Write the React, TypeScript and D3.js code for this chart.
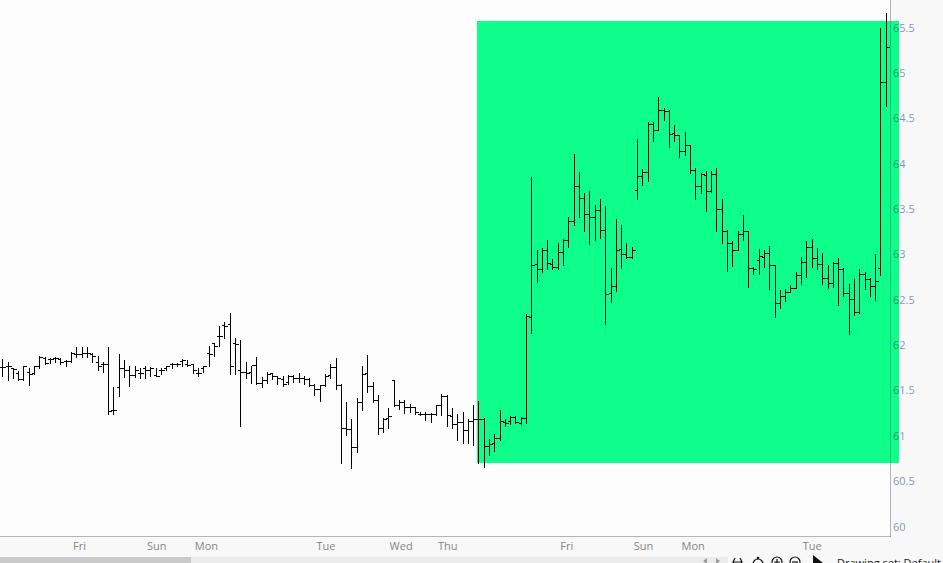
import React from 'react';
import * as d3 from 'd3';

const opens = [61.75,61.76,61.74,61.69,61.62,61.70,61.69,61.76,61.85,61.84,61.85,61.84,61.82,61.82,61.90,61.90,61.91,61.90,61.81,61.79,61.79,61.28,61.53,61.74,61.72,61.67,61.69,61.74,61.72,61.67,61.72,61.74,61.79,61.79,61.82,61.79,61.79,61.69,61.74,61.91,62.02,62.09,62.22,62.23,62.02,61.72,61.70,61.70,61.77,61.58,61.61,61.69,61.65,61.62,61.59,61.65,61.63,61.63,61.62,61.56,61.51,61.56,61.67,61.75,61.56,61.08,61.07,60.87,61.37,61.69,61.54,61.39,61.08,61.19,61.61,61.33,61.37,61.31,61.31,61.24,61.24,61.24,61.24,61.33,61.43,61.21,61.13,61.15,61.06,61.16,61.18,61.18,60.88,60.91,60.97,61.15,61.16,61.20,61.14,61.19,62.30,62.89,62.83,63.04,62.89,62.86,63.02,63.15,63.36,63.75,63.62,63.44,63.41,63.48,63.26,62.57,62.65,63.05,63.00,62.97,63.71,63.86,63.90,64.43,64.37,64.59,64.58,64.33,64.31,64.14,64.20,63.93,63.75,63.87,63.69,63.88,63.50,63.25,63.12,63.04,63.22,63.25,62.84,62.93,62.97,63.01,62.88,62.46,62.54,62.58,62.62,62.77,62.91,63.08,62.96,62.89,62.73,62.68,62.90,62.83,62.57,62.50,62.36,62.78,62.72,62.65,62.84,64.90];
const highs = [61.84,61.81,61.74,61.71,61.76,61.74,61.76,61.87,61.86,61.85,61.86,61.85,61.83,61.92,61.97,61.97,61.97,61.91,61.87,61.81,61.97,61.53,61.90,61.83,61.76,61.76,61.74,61.76,61.75,61.74,61.74,61.76,61.80,61.80,61.84,61.83,61.79,61.74,61.76,61.98,62.02,62.20,62.25,62.35,62.07,62.05,61.81,61.76,61.86,61.64,61.70,61.69,61.65,61.65,61.67,61.66,61.69,61.65,61.63,61.57,61.56,61.68,61.79,61.85,61.57,61.37,61.18,61.41,61.76,61.89,61.59,61.44,61.19,61.30,61.61,61.39,61.39,61.35,61.31,61.26,61.26,61.25,61.33,61.46,61.44,61.30,61.24,61.26,61.18,61.33,61.38,61.19,60.96,61.01,61.28,61.18,61.21,61.21,61.20,62.34,63.85,63.04,63.06,63.15,62.94,63.12,63.16,63.41,64.10,63.90,63.67,63.69,63.54,63.60,63.53,62.84,63.39,63.32,63.12,63.08,64.27,63.94,64.45,64.45,64.73,64.61,64.59,64.42,64.31,64.34,64.20,63.95,63.89,63.91,63.91,63.95,63.61,63.26,63.14,63.25,63.43,63.25,62.86,63.05,63.04,63.09,62.88,62.60,62.61,62.66,62.80,62.97,63.14,63.16,63.06,63.01,62.88,62.91,62.95,62.85,62.67,62.72,62.83,62.80,62.73,63.00,65.49,65.66];
const lows = [61.65,61.61,61.63,61.61,61.61,61.55,61.68,61.74,61.79,61.80,61.81,61.79,61.76,61.81,61.86,61.86,61.86,61.81,61.72,61.70,61.24,61.24,61.43,61.64,61.54,61.64,61.63,61.63,61.65,61.65,61.68,61.72,61.74,61.76,61.76,61.76,61.69,61.65,61.70,61.76,61.87,61.98,62.07,61.68,61.68,61.10,61.63,61.58,61.57,61.53,61.58,61.62,61.57,61.54,61.57,61.59,61.59,61.57,61.54,61.44,61.38,61.54,61.63,61.51,60.70,61.00,60.64,60.82,61.28,61.48,61.37,61.01,61.04,61.08,61.32,61.29,61.25,61.26,61.24,61.22,61.17,61.15,61.22,61.22,61.10,61.08,60.95,60.91,60.91,60.89,60.69,60.65,60.78,60.83,60.95,61.10,61.13,61.14,61.13,61.14,62.13,62.69,62.80,62.83,62.83,62.83,62.88,63.08,63.32,63.41,63.25,63.11,63.15,63.17,62.23,62.47,62.59,62.84,62.96,62.96,63.60,63.76,63.80,64.25,64.37,64.48,64.18,64.25,64.07,64.09,63.89,63.61,63.67,63.47,63.68,63.25,63.12,62.81,62.87,63.04,63.15,62.64,62.78,62.78,62.86,62.61,62.30,62.40,62.48,62.58,62.62,62.67,62.74,62.86,62.83,62.67,62.62,62.64,62.44,62.54,62.12,62.33,62.35,62.61,62.54,62.49,62.77,64.63];
const closes = [61.75,61.76,61.73,61.62,61.76,61.68,61.76,61.86,61.80,61.84,61.85,61.81,61.82,61.91,61.90,61.91,61.91,61.87,61.76,61.79,61.27,61.28,61.74,61.72,61.67,61.72,61.69,61.72,61.74,61.65,61.72,61.76,61.79,61.79,61.83,61.77,61.72,61.69,61.76,61.90,61.98,62.09,62.21,61.76,62.01,61.70,61.69,61.77,61.58,61.61,61.68,61.65,61.63,61.57,61.65,61.63,61.63,61.62,61.56,61.51,61.56,61.65,61.75,61.56,61.08,61.07,60.87,61.37,61.68,61.54,61.39,61.08,61.18,61.21,61.33,61.37,61.31,61.31,61.26,61.24,61.24,61.24,61.33,61.43,61.22,61.13,61.15,61.06,61.16,61.18,61.18,60.88,60.90,60.97,61.16,61.14,61.20,61.15,61.19,62.31,62.88,62.83,63.04,62.90,62.86,63.02,63.15,63.36,63.75,63.62,63.44,63.41,63.48,63.26,62.56,62.65,63.04,63.00,62.97,63.04,63.86,63.90,64.43,64.37,64.59,64.58,64.32,64.31,64.14,64.20,63.93,63.75,63.88,63.69,63.88,63.50,63.25,63.12,63.04,63.22,63.25,62.84,62.83,62.98,63.01,62.88,62.46,62.54,62.58,62.62,62.77,62.91,63.08,62.96,62.89,62.73,62.68,62.90,62.83,62.57,62.50,62.36,62.78,62.72,62.65,62.70,64.90,65.28];

const dayLabels = ['Fri', 'Sun', 'Mon', 'Tue', 'Wed', 'Thu', 'Fri', 'Sun', 'Mon', 'Tue'];
const dayLabelIndex = [14.6, 29.2, 38.6, 61.2, 75.4, 84.2, 106.7, 121.2, 130.6, 153.1];
const priceTicks = [60, 60.5, 61, 61.5, 62, 62.5, 63, 63.5, 64, 64.5, 65, 65.5];
// highlighted region: [start index, end index], [top price, bottom price]
const highlightIndex = [89.74, 169.5];
const highlightPrice = [65.57, 60.69];

const W = 943;
const H = 563;
const plotRight = 890;
const plotBottom = 536;

export default function App() {
  const x = d3.scaleLinear().domain([0, closes.length - 1]).range([2.3, 885.7]);
  const y = d3.scaleLinear().domain([60, 65.5]).range([526, 27.15]);
  const font = '"Open Sans", "DejaVu Sans", sans-serif';
  const tick = 3;

  const hx1 = x(highlightIndex[0]);
  const hx2 = x(highlightIndex[1]);
  const hy1 = y(highlightPrice[0]);
  const hy2 = y(highlightPrice[1]);

  return (
    <svg width={W} height={H} style={{ position: 'absolute', left: 0, top: 0, display: 'block' }}>
      <rect x={0} y={0} width={W} height={H} fill="#f8f8f8" />
      <rect x={0} y={0} width={plotRight} height={plotBottom} fill="#fdfdfd" />
      {/* highlight */}
      <rect x={Math.round(hx1)} y={Math.round(hy1)} width={Math.round(hx2) - Math.round(hx1)} height={Math.round(hy2) - Math.round(hy1)} fill="#0dfe8b" />
      {/* frame */}
      <g stroke="rgba(40,60,80,0.35)" strokeWidth={1} shapeRendering="crispEdges">
        <line x1={plotRight + 0.5} x2={plotRight + 0.5} y1={0} y2={plotBottom + 1} />
        <line x1={0} x2={plotRight + 1} y1={plotBottom + 0.5} y2={plotBottom + 0.5} />
      </g>
      {/* y labels */}
      <g fontFamily={font} fontSize={11} fill="rgba(40,70,125,0.58)">
        {priceTicks.map((p) => (
          <text key={p} x={plotRight + 3} y={y(p)} dominantBaseline="central">
            {String(p)}
          </text>
        ))}
      </g>
      {/* x labels */}
      <g fontFamily={font} fontSize={11} fill="#858585" textAnchor="middle">
        {dayLabels.map((d, i) => (
          <text key={i} x={x(dayLabelIndex[i])} y={550}>
            {d}
          </text>
        ))}
      </g>
      {/* OHLC bars */}
      <g stroke="#000" strokeWidth={1} shapeRendering="crispEdges">
        {closes.map((c, i) => {
          const bx = Math.round(x(i)) + 0.5;
          const yh = Math.round(y(highs[i]));
          const yl = Math.round(y(lows[i])) + 1;
          const yo = Math.round(y(opens[i])) + 0.5;
          const yc = Math.round(y(c)) + 0.5;
          return (
            <g key={i}>
              <line x1={bx} x2={bx} y1={yh} y2={yl} />
              <line x1={bx - tick} x2={bx} y1={yo} y2={yo} />
              <line x1={bx} x2={bx + tick} y1={yc} y2={yc} />
            </g>
          );
        })}
      </g>
      {/* bottom scrollbar */}
      <rect x={0} y={557} width={728} height={6} fill="#ececec" />
      <rect x={0} y={557} width={191} height={6} fill="#cacaca" />
      <g fill="#9a9a9a">
        <path d="M707,558 L703,561 L707,564 Z" />
        <path d="M716,558 L720,561 L716,564 Z" />
      </g>
      {/* toolbar icons */}
      <g stroke="#111" strokeWidth={1.2} fill="none">
        <path d="M733,562 L742,562 M735,558 L733,562 L735,566 M740,558 L742,562 L740,566" />
        <circle cx={758} cy={564} r={5} />
        <circle cx={777} cy={562} r={5} />
        <path d="M774,562 L780,562 M777,559 L777,565" />
        <circle cx={795} cy={562} r={5} />
        <path d="M792,562 L798,562" />
      </g>
      <circle cx={758} cy={558} r={1.3} fill="#111" />
      <path d="M813,555 L823,563 L813,566 Z" fill="#111" />
      <text x={837} y={567} fontFamily={font} fontSize={11} fill="#222">
        Drawing set: Default
      </text>
    </svg>
  );
}
